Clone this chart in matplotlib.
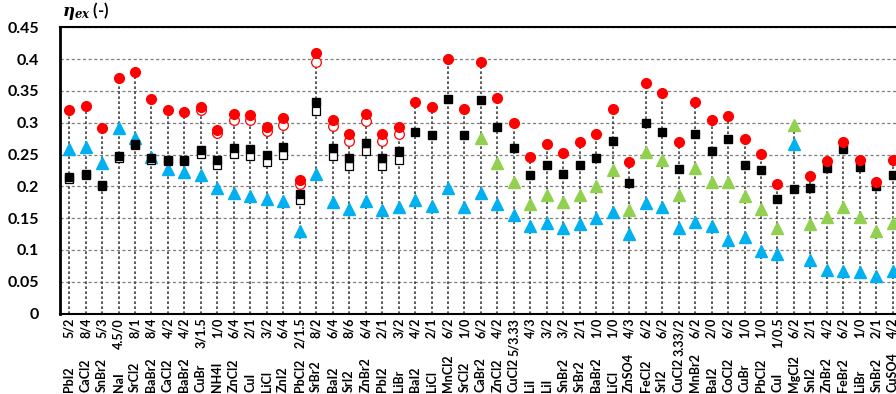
import numpy as np
import matplotlib

matplotlib.use("Agg")
import matplotlib.pyplot as plt
from matplotlib.transforms import blended_transform_factory

nan = np.nan

salts = ["PbI2", "CaCl2", "SnBr2", "NaI", "SrCl2", "BaBr2", "CaCl2", "BaBr2", "CuBr", "NH4I",
         "ZnCl2", "CuI", "LiCl", "ZnI2", "PbCl2", "SrBr2", "BaI2", "SrI2", "ZnBr2", "PbI2",
         "LiBr", "BaI2", "LiCl", "MnCl2", "SrCl2", "CaBr2", "ZnCl2", "CuCl2", "LiI", "LiI",
         "SnBr2", "SrBr2", "BaBr2", "LiCl", "ZnSO4", "FeCl2", "SrI2", "CuCl2", "MnBr2", "BaI2",
         "CoCl2", "CuBr", "PbCl2", "CuI", "MgCl2", "SnI2", "ZnBr2", "FeBr2", "LiBr", "SnBr2",
         "CuSO4"]
ratios = ["5/2", "8/4", "5/3", "4.5/0", "8/1", "8/4", "4/2", "4/2", "3/1.5", "1/0",
          "6/4", "2/1", "3/2", "6/4", "2/1.5", "8/2", "6/4", "8/6", "6/4", "2/1",
          "3/2", "4/2", "2/1", "6/2", "1/0", "6/2", "4/2", "5/3.33", "4/3", "3/2",
          "3/2", "2/1", "1/0", "1/0", "4/3", "6/2", "6/2", "3.33/2", "6/2", "2/0",
          "6/2", "1/0", "1/0", "1/0.5", "6/2", "2/1", "4/2", "6/2", "1/0", "2/1",
          "4/2"]

red_filled = [0.320, 0.327, 0.292, 0.370, 0.380, 0.337, 0.320, 0.317, 0.325, 0.289,
              0.313, 0.312, 0.294, 0.307, 0.210, 0.409, 0.305, 0.282, 0.314, 0.282,
              0.294, 0.332, 0.324, 0.400, 0.321, 0.395, 0.339, 0.300, 0.246, 0.267,
              0.252, 0.269, 0.283, 0.322, 0.238, 0.363, 0.346, 0.270, 0.333, 0.305,
              0.311, 0.274, 0.251, 0.204, nan, 0.216, 0.240, 0.269, 0.242, 0.207,
              0.242]
red_open = [nan, nan, nan, nan, nan, nan, nan, nan, 0.320, 0.284,
            0.305, 0.304, 0.287, 0.297, 0.203, 0.396, 0.295, 0.272, 0.302, 0.272,
            0.283] + [nan] * 30
black_filled = [0.215, 0.220, 0.202, 0.247, 0.267, 0.244, 0.242, 0.242, 0.257, 0.242,
                0.261, 0.259, 0.249, 0.262, 0.188, 0.333, 0.261, 0.244, 0.268, 0.245,
                0.255, 0.286, 0.281, 0.338, 0.281, 0.335, 0.293, 0.260, 0.218, 0.233,
                0.220, 0.233, 0.244, 0.272, 0.205, 0.300, 0.286, 0.227, 0.282, 0.256,
                0.274, 0.233, 0.226, 0.180, 0.195, 0.198, 0.228, 0.259, 0.231, 0.200,
                0.217]
black_open = [0.212, 0.217, 0.200, 0.245, 0.265, 0.242, 0.240, 0.240, 0.251, 0.234,
              0.251, 0.248, 0.239, 0.250, 0.179, 0.318, 0.248, 0.232, 0.255, 0.232,
              0.242] + [nan] * 30
blue = [0.259, 0.262, 0.236, 0.292, 0.276, 0.246, 0.227, 0.222, 0.218, 0.198,
        0.189, 0.184, 0.180, 0.177, 0.129, 0.220, 0.175, 0.164, 0.177, 0.162,
        0.168, 0.178, 0.169, 0.198, 0.168, 0.189, 0.172, 0.155, 0.137, 0.142,
        0.134, 0.141, 0.150, 0.160, 0.125, 0.174, 0.168, 0.134, 0.144, 0.138,
        0.116, 0.120, 0.098, 0.094, 0.266, 0.084, 0.068, 0.067, 0.066, 0.059,
        0.067]
green = [nan] * 25 + [0.276, 0.236, 0.207, 0.172, 0.186,
                      0.175, 0.186, 0.200, 0.225, 0.163, 0.254, 0.242, 0.186, 0.228, 0.207,
                      0.206, 0.185, 0.165, 0.135, 0.296, 0.141, 0.151, 0.168, 0.151, 0.129,
                      0.143]

plt.rcParams["font.family"] = ["Lato", "DejaVu Sans"]
plt.rcParams["font.weight"] = "bold"
plt.rcParams["mathtext.fontset"] = "custom"
plt.rcParams["mathtext.it"] = "DejaVu Serif:italic:bold"
plt.rcParams["mathtext.rm"] = "DejaVu Serif:bold"

x = np.arange(len(salts))

fig = plt.figure(figsize=(8.96, 3.94), dpi=100)
ax = fig.add_axes([0.067, 0.2043, 0.957, 0.7264])

# drop lines from the highest marker of each salt down to zero
top = np.nanmax(np.vstack([red_filled, red_open, black_filled, black_open, blue, green]), axis=0)
ax.vlines(x, 0, top, colors="#404040", linestyles=(0, (1.6, 1.4)), linewidth=1.2, zorder=1)

ax.plot(x, blue, "^", color="#00B0F0", markersize=9, linestyle="none", zorder=3)
ax.plot(x, green, "^", color="#92D050", markersize=9, linestyle="none", zorder=3)
ax.plot(x, black_open, "s", mfc="white", mec="black", mew=0.9, markersize=6.2, linestyle="none", zorder=4)
ax.plot(x, black_filled, "s", color="black", markersize=6.2, linestyle="none", zorder=5)
ax.plot(x, red_open, "o", mfc="white", mec="red", mew=0.9, markersize=7, linestyle="none", zorder=6)
ax.plot(x, red_filled, "o", color="red", markersize=7, linestyle="none", zorder=7)

ax.set_xlim(-0.55, 51.5)
ax.set_ylim(0, 0.45)
yt = np.arange(0, 0.4501, 0.05)
ax.set_yticks(yt)
ax.set_yticklabels(["0" if v == 0 else f"{v:g}" for v in np.round(yt, 2)], fontsize=11.5, fontweight="bold")
ax.tick_params(axis="y", length=0, pad=15)
ax.set_xticks([])
ax.yaxis.grid(True, color="#7f7f7f", linestyle=(0, (2.5, 2)), linewidth=0.9)
ax.set_axisbelow(True)

ax.spines["left"].set_linewidth(2)
ax.spines["bottom"].set_linewidth(1.5)
ax.spines["top"].set_linewidth(1.5)

# two-part category labels: ratio hugging the axis, salt name at the bottom
tr = blended_transform_factory(ax.transData, ax.transAxes)
for xi, s, r in zip(x, salts, ratios):
    ax.text(xi, -0.015, r, transform=tr, rotation=90, ha="center", va="top",
            fontsize=9, fontweight="bold", clip_on=False)
    ax.text(xi, -0.275, s, transform=tr, rotation=90, ha="center", va="bottom",
            fontsize=9, fontweight="bold", clip_on=False)

fig.text(0.069, 0.945, r"$\eta_{ex}$ (-)", fontsize=12, fontweight="bold", ha="left", va="bottom")

fig.savefig("out.png", dpi=100)
